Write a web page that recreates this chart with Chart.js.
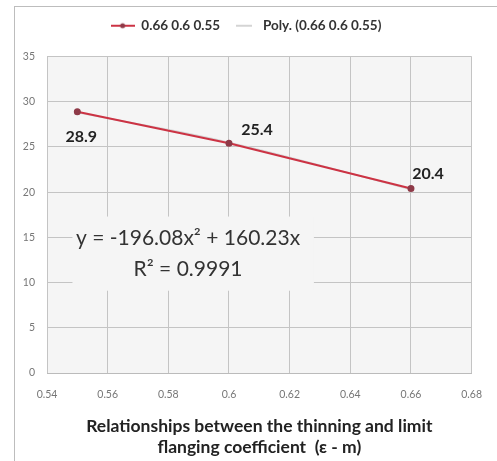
<!DOCTYPE html>
<html lang="en">
<head>
    <meta charset="UTF-8">
    <title>Thinning vs limit flanging coefficient</title>
    <script src="https://cdn.jsdelivr.net/npm/chart.js"></script>
    <style>
        html, body {
            margin: 0;
            padding: 0;
            background: #fff;
        }
        .wrap {
            width: 497px;
            height: 461px;
            position: relative;
        }
    </style>
</head>
<body>
    <div class="wrap">
        <canvas id="chart"></canvas>
    </div>

    <script>
        // values
        const coefficients = [0.55, 0.6, 0.66];
        const thinning = [28.9, 25.4, 20.4];
        const trendValues = [28.8, 25.5, 20.3];
        const seriesName = '0.66 0.6 0.55';
        const trendName = 'Poly. (0.66 0.6 0.55)';
        const equationLines = ['y = -196.08x\u00b2 + 160.23x', 'R\u00b2 = 0.9991'];
        const xTitle = ['Relationships between the thinning and limit', 'flanging coefficient  (\u03b5 - m)'];

        const plotBg = '#f5f5f5';
        const lineColor = '#cc3344';
        const markerColor = '#8e3a48';
        const trendColor = '#d4d4d4';
        const fontFamily = "Lato, 'Open Sans', 'Liberation Sans', sans-serif";

        // little legend swatches: line with marker, plain short line
        function swatch(w, color, dot) {
            const c = document.createElement('canvas');
            c.width = w;
            c.height = 8;
            const g = c.getContext('2d');
            g.strokeStyle = color;
            g.lineWidth = 2;
            g.beginPath();
            g.moveTo(0, 4);
            g.lineTo(w, 4);
            g.stroke();
            if (dot) {
                g.fillStyle = dot;
                g.beginPath();
                g.arc(w / 2, 4, 2.5, 0, Math.PI * 2);
                g.fill();
            }
            return c;
        }
        const seriesSwatch = swatch(24, lineColor, markerColor);
        const trendSwatch = swatch(16, trendColor, null);

        // frame around the whole chart + plot background, extra gap under legend
        const frame = {
            id: 'frame',
            afterInit(chart) {
                const lg = chart.legend;
                if (!lg) return;
                const fit = lg.fit.bind(lg);
                lg.fit = function () {
                    fit();
                    this.height += 14;
                };
            },
            beforeDraw(chart) {
                const { ctx, chartArea: a } = chart;
                ctx.save();
                ctx.strokeStyle = '#bdbdbd';
                ctx.lineWidth = 1;
                ctx.strokeRect(14.5, 6.5, chart.width - 14, chart.height - 6);
                ctx.fillStyle = plotBg;
                ctx.fillRect(a.left, a.top, a.right - a.left, a.bottom - a.top);
                ctx.restore();
            }
        };

        // trendline equation box
        const equation = {
            id: 'equation',
            beforeDatasetsDraw(chart) {
                const { ctx, scales: { x, y } } = chart;
                const l = x.getPixelForValue(0.5484), r = x.getPixelForValue(0.628);
                const t = y.getPixelForValue(17.3), b = y.getPixelForValue(9.1);
                ctx.save();
                ctx.fillStyle = plotBg;
                ctx.fillRect(l, t, r - l, b - t);
                ctx.fillStyle = '#333';
                ctx.font = "21px " + fontFamily;
                ctx.textAlign = 'center';
                ctx.textBaseline = 'middle';
                const cx = x.getPixelForValue(0.5865);
                ctx.fillText(equationLines[0], cx, y.getPixelForValue(14.9));
                ctx.fillText(equationLines[1], cx, y.getPixelForValue(11.5));
                ctx.restore();
            }
        };

        // point value labels
        const labelOffsets = [[4, 25], [28, -13], [17, -15]];
        const valueLabels = {
            id: 'valueLabels',
            afterDatasetsDraw(chart) {
                const { ctx } = chart;
                const meta = chart.getDatasetMeta(0);
                ctx.save();
                ctx.fillStyle = '#222';
                ctx.font = "bold 16px " + fontFamily;
                ctx.textAlign = 'center';
                ctx.textBaseline = 'middle';
                meta.data.forEach((pt, i) => {
                    const o = labelOffsets[i];
                    ctx.fillText(thinning[i].toString(), pt.x + o[0], pt.y + o[1]);
                });
                ctx.restore();
            }
        };

        new Chart(document.getElementById('chart'), {
            type: 'line',
            data: {
                datasets: [
                    {
                        label: seriesName,
                        data: coefficients.map((c, i) => ({ x: c, y: thinning[i] })),
                        borderColor: lineColor,
                        backgroundColor: markerColor,
                        pointBorderColor: markerColor,
                        borderWidth: 2,
                        pointRadius: 2.5,
                        pointStyle: 'circle',
                        order: 1
                    },
                    {
                        label: trendName,
                        data: coefficients.map((c, i) => ({ x: c, y: trendValues[i] })),
                        borderColor: trendColor,
                        backgroundColor: trendColor,
                        borderWidth: 1.5,
                        pointRadius: 0,
                        tension: 0.4,
                        order: 2
                    }
                ]
            },
            options: {
                responsive: true,
                maintainAspectRatio: false,
                animation: false,
                layout: {
                    padding: { left: 14, right: 19, top: 7, bottom: 2 }
                },
                scales: {
                    x: {
                        type: 'linear',
                        min: 0.54,
                        max: 0.68,
                        ticks: {
                            stepSize: 0.02,
                            color: '#777',
                            font: { size: 10.5, family: fontFamily },
                            padding: 15,
                            callback: v => Number(v.toFixed(2)).toString()
                        },
                        grid: { color: '#c4c4c4', drawTicks: false },
                        border: { color: '#bbb' },
                        title: {
                            display: true,
                            text: xTitle,
                            color: '#222',
                            font: { size: 17.5, weight: 'bold', family: fontFamily, lineHeight: 1.2 },
                            padding: { top: 0, bottom: 1 }
                        },
                        afterFit: s => { s.height = 86; }
                    },
                    y: {
                        min: 0,
                        max: 35,
                        ticks: {
                            stepSize: 5,
                            color: '#777',
                            font: { size: 10.5, family: fontFamily },
                            padding: 12
                        },
                        grid: { color: '#c4c4c4', drawTicks: false },
                        border: { display: false },
                        afterFit: s => { s.width = 33; }
                    }
                },
                plugins: {
                    legend: {
                        position: 'top',
                        labels: {
                            usePointStyle: true,
                            pointStyleWidth: 24,
                            color: '#333',
                            font: { size: 13.5, weight: 'bold', family: fontFamily },
                            padding: 12,
                            generateLabels: chart => {
                                const items = Chart.defaults.plugins.legend.labels.generateLabels(chart);
                                items.forEach((it, i) => {
                                    it.pointStyle = i === 0 ? seriesSwatch : trendSwatch;
                                });
                                return items;
                            }
                        }
                    },
                    tooltip: { enabled: false }
                }
            },
            plugins: [frame, equation, valueLabels]
        });
    </script>
</body>
</html>
